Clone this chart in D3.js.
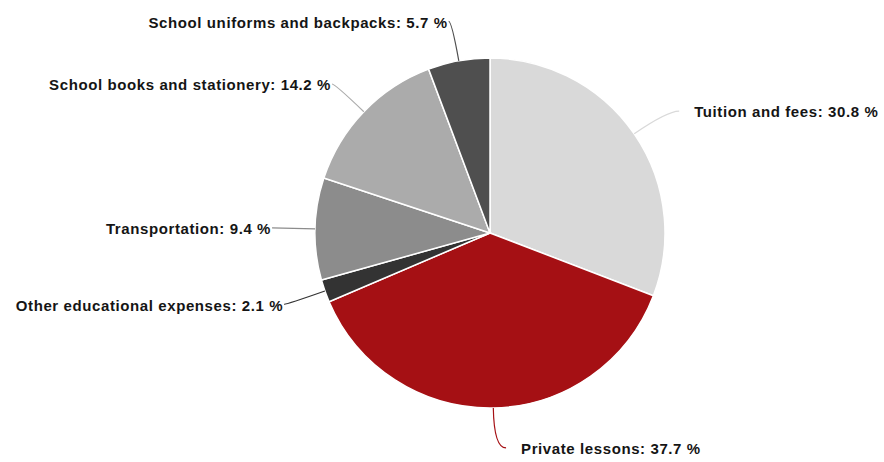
<!DOCTYPE html>
<html>
<head>
<meta charset="utf-8">
<script src="https://cdn.jsdelivr.net/npm/d3@7"></script>
<style>
    body { margin: 0; background: #fff; }
    text { font-family: "Liberation Sans", Arial, sans-serif; font-weight: bold; font-size: 15px; fill: #151515; letter-spacing: 0.6px; }
</style>
</head>
<body>
<div id="chart"></div>
<script>
// Data, clockwise from 12 o'clock
let categories = ["Tuition and fees", "Private lessons", "Other educational expenses",
                  "Transportation", "School books and stationery", "School uniforms and backpacks"]
let shares = [30.8, 37.7, 2.1, 9.4, 14.2, 5.7]
let colours = ["#d9d9d9", "#a51014", "#333333", "#8c8c8c", "#ababab", "#4f4f4f"]

let width = 884, height = 462
let cx = 490, cy = 233, radius = 175

let svg = d3.select("#chart").append("svg")
    .attr("width", width)
    .attr("height", height)

let data = categories.map((c, i) => ({name: c, value: shares[i], colour: colours[i]}))

let pie = d3.pie()
    .sort(null)
    .value(d => d.value)

let arcs = pie(data)

let arc = d3.arc()
    .innerRadius(0)
    .outerRadius(radius)

let g = svg.append("g")
    .attr("transform", `translate(${cx}, ${cy})`)

// Slices
g.selectAll("path.slice")
    .data(arcs)
    .enter()
    .append("path")
    .attr("class", "slice")
    .attr("d", arc)
    .attr("fill", d => d.data.colour)
    .attr("stroke", "#fff")
    .attr("stroke-width", 1.5)

// point on a circle of radius r at the slice middle
function polar(d, r){
    let a = (d.startAngle + d.endAngle) / 2
    return [r * Math.sin(a), -r * Math.cos(a)]
}

let labelRadius = radius + 40

// Connectors
g.selectAll("path.connector")
    .data(arcs)
    .enter()
    .append("path")
    .attr("class", "connector")
    .attr("fill", "none")
    .attr("stroke", d => d.data.colour)
    .attr("stroke-width", 1.2)
    .attr("d", d => {
        let e = polar(d, radius)
        let b = polar(d, labelRadius)
        let leg = b[0] >= 0 ? 12 : -3
        return `M${e[0]},${e[1]} Q${b[0]},${b[1]} ${b[0] + leg},${b[1]}`
    })

// Labels
g.selectAll("text")
    .data(arcs)
    .enter()
    .append("text")
    .attr("x", d => {
        let b = polar(d, labelRadius)
        return b[0] >= 0 ? b[0] + 27 : b[0] - 4
    })
    .attr("y", d => polar(d, labelRadius)[1] + 1)
    .attr("dy", "0.35em")
    .attr("text-anchor", d => polar(d, labelRadius)[0] >= 0 ? "start" : "end")
    .text(d => d.data.name + ": " + d.data.value + " %")
</script>
</body>
</html>
